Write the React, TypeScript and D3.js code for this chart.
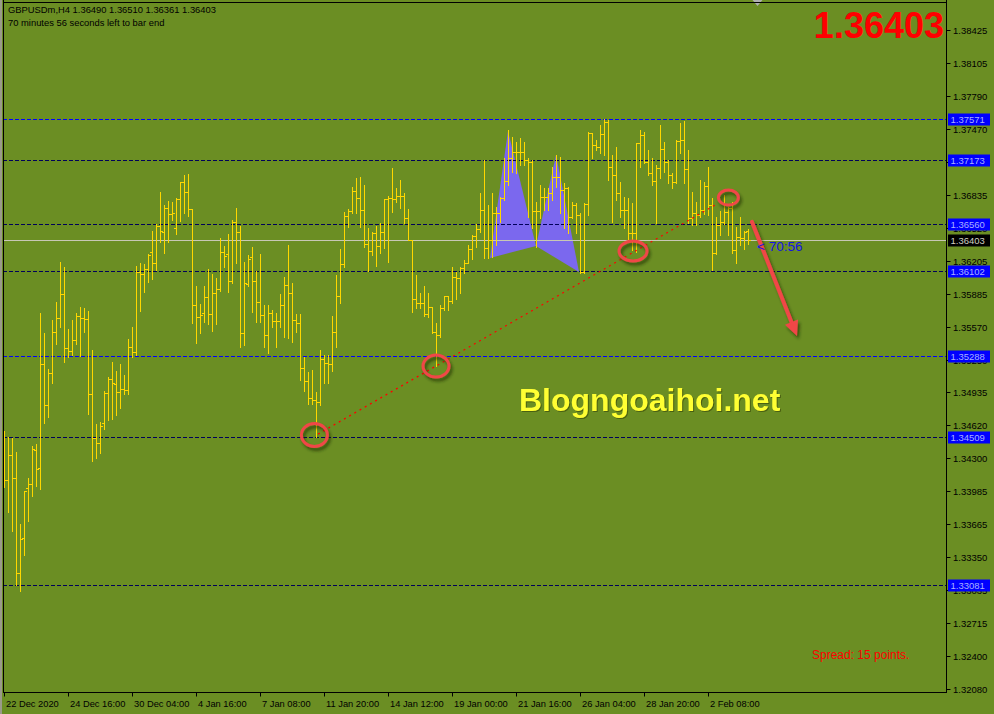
import React from 'react';
import * as d3 from 'd3';

// ---------- DATA ----------
const opens = [
1.34477,1.34092,1.34333,1.34111,1.33196,1.33533,1.34015,1.34053,1.34381,1.34207,
1.35208,1.34814,1.35122,1.35517,1.35652,1.35883,1.35363,1.35334,1.35440,1.35671,
1.35652,1.35642,1.34919,1.34496,1.34448,1.34641,1.34929,1.35064,1.35016,1.34939,
1.34968,1.34958,1.35373,1.35325,1.36095,1.36075,1.36123,1.36288,1.36181,1.36538,
1.36480,1.36711,1.36653,1.36518,1.36798,1.36962,1.36866,1.36701,1.35777,1.35662,
1.35700,1.35855,1.35690,1.35893,1.35931,1.36288,1.36268,1.36008,1.36577,1.36480,
1.35507,1.35979,1.36240,1.36008,1.35806,1.35681,1.35488,1.35700,1.35623,1.35623,
1.35777,1.35970,1.35893,1.35633,1.35604,1.35170,1.35045,1.34881,1.34862,1.34843,
1.35257,1.35218,1.35208,1.35517,1.35864,1.36171,1.36634,1.36682,1.36875,1.36808,
1.36692,1.36364,1.36297,1.36470,1.36345,1.36480,1.36798,1.36808,1.36798,1.36827,
1.36827,1.36615,1.36403,1.35835,1.35796,1.35796,1.35690,1.35758,1.35517,1.35488,
1.35748,1.35864,1.35815,1.36047,1.36037,1.36133,1.36181,1.36316,1.36442,1.36509,
1.36692,1.36326,1.36403,1.36663,1.36663,1.36808,1.36971,1.37192,1.37250,1.37250,
1.37250,1.37173,1.37154,1.36682,1.36682,1.36817,1.36817,1.36856,1.37010,1.37010,
1.36885,1.36904,1.36625,1.36740,1.36644,1.36095,1.36750,1.37433,1.37317,1.37298,
1.37423,1.37540,1.37106,1.37029,1.36856,1.36692,1.36692,1.36470,1.36470,1.37337,
1.37414,1.37154,1.37048,1.36971,1.37096,1.37279,1.37154,1.37029,1.36962,1.37356,
1.37366,1.37087,1.36615,1.36663,1.36644,1.36692,1.36923,1.36740,1.36278,1.36548,
1.36577,1.36673,1.36711,1.36307,1.36432,1.36422,1.36490];

const highs = [
1.34563,1.34506,1.34496,1.34362,1.33667,1.33985,1.34111,1.34419,1.34438,1.35700,
1.35507,1.35160,1.35633,1.35806,1.36191,1.36143,1.35546,1.35633,1.35700,1.35758,
1.35748,1.35719,1.35344,1.34631,1.34651,1.34948,1.35084,1.35228,1.35141,1.35208,
1.35103,1.35449,1.35566,1.36152,1.36181,1.36171,1.36268,1.36489,1.36557,1.36866,
1.36740,1.36778,1.36769,1.36808,1.36962,1.37029,1.37038,1.36701,1.35960,1.35786,
1.35960,1.36123,1.36075,1.36037,1.36422,1.36345,1.36460,1.36596,1.36711,1.36538,
1.36191,1.36259,1.36336,1.36104,1.36268,1.35777,1.35777,1.35729,1.35700,1.35883,
1.36047,1.36355,1.35989,1.35690,1.35690,1.35277,1.35132,1.35151,1.34939,1.35344,
1.35296,1.35296,1.35671,1.36066,1.36316,1.36673,1.36701,1.36914,1.37000,1.37010,
1.36933,1.36518,1.36480,1.36538,1.36567,1.36798,1.36827,1.37096,1.36904,1.36981,
1.36856,1.36701,1.36403,1.36066,1.35893,1.35960,1.35893,1.35758,1.35604,1.35777,
1.35864,1.35864,1.36143,1.36095,1.36143,1.36210,1.36355,1.36451,1.36557,1.36856,
1.37173,1.36740,1.36856,1.36721,1.36817,1.37192,1.37462,1.37394,1.37346,1.37385,
1.37346,1.37192,1.37173,1.36769,1.36933,1.36904,1.36904,1.37106,1.37221,1.37202,
1.36952,1.36914,1.36769,1.36759,1.36663,1.36759,1.37443,1.37433,1.37366,1.37510,
1.37571,1.37560,1.37221,1.37298,1.36962,1.36817,1.36808,1.36759,1.37337,1.37462,
1.37443,1.37270,1.37192,1.37125,1.37510,1.37346,1.37173,1.37048,1.37366,1.37530,
1.37549,1.37270,1.36866,1.36769,1.36981,1.36962,1.37106,1.36808,1.36625,1.36682,
1.36836,1.36721,1.36769,1.36528,1.36625,1.36489,1.36510];

const lows = [
1.34025,1.33784,1.33600,1.33081,1.33022,1.33370,1.33696,1.33937,1.34034,1.34005,
1.34641,1.34699,1.35026,1.35401,1.35566,1.35228,1.35277,1.35296,1.35401,1.35286,
1.35517,1.34727,1.34274,1.34304,1.34352,1.34583,1.34670,1.34679,1.34718,1.34785,
1.34919,1.34919,1.35277,1.35296,1.35719,1.35903,1.35999,1.36027,1.36114,1.36384,
1.36278,1.36384,1.36596,1.36460,1.36586,1.36663,1.36634,1.35604,1.35411,1.35507,
1.35614,1.35594,1.35526,1.35594,1.35912,1.36143,1.35903,1.35989,1.36181,1.35373,
1.35392,1.35960,1.35710,1.35614,1.35614,1.35373,1.35315,1.35566,1.35373,1.35566,
1.35469,1.35459,1.35421,1.35517,1.35055,1.34948,1.34823,1.34823,1.34509,1.34814,
1.35026,1.35026,1.35141,1.35373,1.35796,1.36143,1.36529,1.36663,1.36663,1.36529,
1.36336,1.36104,1.36259,1.36152,1.36278,1.36326,1.36191,1.36673,1.36769,1.36711,
1.36567,1.36403,1.35710,1.35748,1.35748,1.35671,1.35662,1.35507,1.35189,1.35469,
1.35729,1.35729,1.35796,1.35835,1.35893,1.36085,1.36181,1.36220,1.36336,1.36480,
1.36230,1.36230,1.36240,1.36355,1.36577,1.36788,1.36933,1.37058,1.37048,1.37125,
1.37125,1.36625,1.36518,1.36336,1.36615,1.36692,1.36692,1.36788,1.36914,1.36663,
1.36518,1.36470,1.36615,1.36470,1.36085,1.36085,1.36644,1.37192,1.37270,1.37241,
1.37222,1.36981,1.36577,1.36788,1.36625,1.36518,1.36403,1.36307,1.36288,1.37106,
1.37144,1.37029,1.36933,1.36567,1.37000,1.37058,1.36952,1.36904,1.36952,1.37241,
1.36952,1.36567,1.36548,1.36548,1.36625,1.36653,1.36644,1.36114,1.36268,1.36451,
1.36557,1.36451,1.36278,1.36181,1.36355,1.36316,1.36361];

const closes = [
1.34092,1.34333,1.34111,1.33196,1.33523,1.33985,1.34053,1.34390,1.34197,1.35208,
1.34814,1.35122,1.35517,1.35652,1.35883,1.35363,1.35334,1.35440,1.35671,1.35652,
1.35642,1.34919,1.34496,1.34448,1.34612,1.34929,1.35064,1.35026,1.34939,1.34968,
1.34958,1.35373,1.35325,1.36095,1.36075,1.36123,1.36259,1.36181,1.36538,1.36489,
1.36711,1.36653,1.36663,1.36798,1.36962,1.36866,1.36701,1.35777,1.35662,1.35681,
1.35855,1.35690,1.35893,1.35931,1.36288,1.36249,1.36008,1.36577,1.36480,1.35507,
1.35989,1.36220,1.36008,1.35806,1.35681,1.35488,1.35700,1.35623,1.35623,1.35777,
1.35970,1.35893,1.35633,1.35604,1.35170,1.35045,1.34881,1.34862,1.34843,1.35257,
1.35218,1.35208,1.35517,1.35864,1.36171,1.36634,1.36682,1.36875,1.36808,1.36692,
1.36364,1.36297,1.36470,1.36345,1.36480,1.36798,1.36808,1.36798,1.36827,1.36827,
1.36615,1.36403,1.35835,1.35796,1.35796,1.35690,1.35758,1.35517,1.35488,1.35748,
1.35864,1.35815,1.36047,1.36037,1.36133,1.36181,1.36316,1.36442,1.36509,1.36692,
1.36326,1.36403,1.36663,1.36663,1.36808,1.36971,1.37192,1.37250,1.37250,1.37250,
1.37173,1.37154,1.36682,1.36682,1.36817,1.36817,1.36856,1.37010,1.37010,1.36885,
1.36904,1.36625,1.36740,1.36644,1.36095,1.36750,1.37433,1.37317,1.37298,1.37423,
1.37540,1.37106,1.37029,1.36856,1.36692,1.36692,1.36470,1.36470,1.37337,1.37414,
1.37154,1.37048,1.36971,1.37096,1.37279,1.37154,1.37029,1.36962,1.37356,1.37366,
1.37087,1.36615,1.36663,1.36644,1.36692,1.36923,1.36740,1.36278,1.36548,1.36577,
1.36673,1.36711,1.36307,1.36432,1.36422,1.36480,1.36403];

const dateLabels = ['22 Dec 2020','24 Dec 16:00','30 Dec 04:00','4 Jan 16:00','7 Jan 08:00','11 Jan 20:00',
  '14 Jan 12:00','19 Jan 00:00','21 Jan 16:00','26 Jan 04:00','28 Jan 20:00','2 Feb 08:00'];
const barsPerDateLabel = 16;

const priceTicks = [1.38425,1.38105,1.37790,1.37470,1.37155,1.36835,1.36520,1.36205,1.35885,1.35570,
  1.35250,1.34935,1.34620,1.34300,1.33985,1.33665,1.33350,1.33035,1.32715,1.32400,1.32080];

const levelPrices = [1.37571,1.37173,1.36560,1.36102,1.35288,1.34509,1.33081];
const levelStrong = [true,false,false,false,true,false,false];

const lastPrice = 1.36403;
const headerText = 'GBPUSDm,H4  1.36490 1.36510 1.36361 1.36403';
const timerText = '70 minutes 56 seconds left to bar end';

// annotations (bar index, price)
const trendIdx = [78.5, 177.75];
const trendPrice = [1.34534, 1.36740];
const circleIdx = [77.6, 108, 157.25, 181.1];
const circlePrice = [1.34525, 1.35189, 1.36297, 1.36812];
const circleRx = [13, 13, 14, 10];
const circleRy = [11.5, 11, 10, 7.5];
const harmIdx = [121.5, 126, 133, 138, 143.75];
const harmPrice = [1.36230, 1.37453, 1.36345, 1.37221, 1.36095];
const arrowIdx = [187, 198.25];
const arrowPrice = [1.36577, 1.35478];

const W = 994, H = 714;
const PL = 3, PR = 946.5, PT = 2.5, PB = 692.5;
const FONT = 'Liberation Sans, Arial, sans-serif';
const RED = '#F04646';

export default function App() {
  const xs = d3.scaleLinear().domain([0, opens.length - 1]).range([4, 748]);
  const ys = d3.scaleLinear().domain([1.32080, 1.38425]).range([689, 30]);
  const yr = (p: number) => Math.round(ys(p));

  const harmPts = harmIdx.map((d, i) => [xs(d), ys(harmPrice[i])]);
  const tri1 = [harmPts[0], harmPts[1], harmPts[2]];
  const tri2 = [harmPts[2], harmPts[3], harmPts[4]];
  const line = d3.line();

  const ax0 = xs(arrowIdx[0]), ay0 = ys(arrowPrice[0]);
  const ax1 = xs(arrowIdx[1]), ay1 = ys(arrowPrice[1]);
  const ang = Math.atan2(ay1 - ay0, ax1 - ax0);
  const hl = 15, hw = 7;
  const bxp = ax1 - hl * Math.cos(ang), byp = ay1 - hl * Math.sin(ang);
  const head = [
    [ax1, ay1],
    [bxp + hw * Math.sin(ang), byp - hw * Math.cos(ang)],
    [bxp - hw * Math.sin(ang), byp + hw * Math.cos(ang)],
  ];

  const lastY = yr(lastPrice);

  return (
    <svg width={W} height={H} style={{ position: 'absolute', left: 0, top: 0 }} fontFamily={FONT}>
      <defs>
        <filter id="sh" x="-50%" y="-50%" width="200%" height="200%">
          <feDropShadow dx="2" dy="3" stdDeviation="1.6" floodColor="#1f2a05" floodOpacity="0.65" />
        </filter>
        <clipPath id="plot"><rect x={PL} y={PT} width={PR - PL} height={PB - PT} /></clipPath>
      </defs>
      <rect x={0} y={0} width={W} height={H} fill="#6B8E23" />
      <rect x={0} y={0} width={2} height={H} fill="#9a9a8a" />

      <g clipPath="url(#plot)">
        {/* harmonic pattern */}
        <path d={line(tri1 as any) + 'Z'} fill="#7B68EE" />
        <path d={line(tri2 as any) + 'Z'} fill="#7B68EE" />

        {/* level lines */}
        {levelPrices.map((p, i) => (
          <line key={'lv' + i} x1={PL} x2={PR} y1={yr(p) + 0.5} y2={yr(p) + 0.5}
            stroke={levelStrong[i] ? '#0000FF' : '#00005A'} strokeWidth={1} strokeDasharray="4,2" />
        ))}
        {/* bid line */}
        <line x1={PL} x2={PR} y1={lastY + 0.5} y2={lastY + 0.5} stroke="#C8C8B4" strokeWidth={1} />

        {/* bars */}
        <g fill="#FFD700" shapeRendering="crispEdges">
          {opens.map((o, i) => {
            const bx = Math.round(xs(i));
            const yh = yr(highs[i]);
            const yl = yr(lows[i]);
            return (
              <g key={'b' + i}>
                <rect x={bx} y={yh} width={1} height={Math.max(1, yl - yh + 1)} />
                <rect x={bx - 2} y={yr(o)} width={2} height={1} />
                <rect x={bx + 1} y={yr(closes[i])} width={2} height={1} />
              </g>
            );
          })}
        </g>

        {/* trend line */}
        <line x1={xs(trendIdx[0])} y1={ys(trendPrice[0])} x2={xs(trendIdx[1])} y2={ys(trendPrice[1])}
          stroke="#FF0000" strokeWidth={1.2} strokeDasharray="2,4" />

        {/* red annotations */}
        <g filter="url(#sh)">
          {circleIdx.map((c, i) => (
            <ellipse key={'c' + i} cx={xs(c)} cy={ys(circlePrice[i])} rx={circleRx[i]} ry={circleRy[i]}
              fill="none" stroke={RED} strokeWidth={3} />
          ))}
          <line x1={ax0} y1={ay0} x2={bxp} y2={byp} stroke={RED} strokeWidth={4} strokeLinecap="round" />
          <path d={line(head as any) + 'Z'} fill={RED} />
        </g>

        {/* watermark */}
        <text x={519} y={411} fontSize={32} fontWeight="bold" fill="#FFFF33"
          style={{ filter: 'drop-shadow(1px 1px 0px rgba(40,50,0,0.5))' }}>Blogngoaihoi.net</text>

        {/* countdown */}
        <text x={757} y={251} fontSize={13.5} fill="#1414E6" xmlSpace="preserve">{'< 70:56'}</text>

        {/* big price */}
        <text x={944} y={38} fontSize={36} fontWeight="bold" fill="#FF0000" textAnchor="end">{lastPrice.toFixed(5)}</text>

        {/* spread */}
        <text x={812} y={659} fontSize={12} fill="#FF0000">Spread: 15 points.</text>

        {/* header */}
        <text x={8} y={13} fontSize={9.4} fill="#000">{headerText}</text>
        <text x={8} y={26} fontSize={9.4} fill="#000">{timerText}</text>
      </g>

      {/* chart shift marker */}
      <path d={`M${PR - 194},0 L${PR - 184},0 L${PR - 189},6 Z`} fill="#b0b0b0" />

      {/* frame */}
      <g stroke="#000" strokeWidth={1} fill="none" shapeRendering="crispEdges">
        <line x1={PL} x2={PL} y1={0} y2={PB} />
        <line x1={PL} x2={PR} y1={PT} y2={PT} />
        <line x1={PR} x2={PR} y1={0} y2={PB} />
        <line x1={PL} x2={PR} y1={PB} y2={PB} />
      </g>

      {/* price axis */}
      <g fontSize={9.5} fill="#000">
        {priceTicks.map((p, i) => (
          <g key={'pt' + i}>
            <line x1={PR} x2={PR + 4} y1={yr(p) + 0.5} y2={yr(p) + 0.5} stroke="#000" />
            <text x={953} y={yr(p) + 3.5}>{p.toFixed(5)}</text>
          </g>
        ))}
        {levelPrices.map((p, i) => (
          <g key={'lb' + i}>
            <rect x={948} y={yr(p) - 5.5} width={42} height={12} fill="#0000FF" />
            <text x={950.5} y={yr(p) + 4} fill="#A8B0FF">{p.toFixed(5)}</text>
          </g>
        ))}
        <rect x={948} y={lastY - 5.5} width={42} height={12} fill="#000" />
        <text x={950.5} y={lastY + 4} fill="#D0D0C0">{lastPrice.toFixed(5)}</text>
      </g>

      {/* date axis */}
      <g fontSize={9.3} fill="#000">
        {dateLabels.map((l, i) => {
          const x = Math.round(xs(i * barsPerDateLabel)) + 0.5;
          return (
            <g key={'dl' + i}>
              <line x1={x} x2={x} y1={PB} y2={PB + 4} stroke="#000" />
              <text x={x + 1.5} y={707}>{l}</text>
            </g>
          );
        })}
      </g>
    </svg>
  );
}
